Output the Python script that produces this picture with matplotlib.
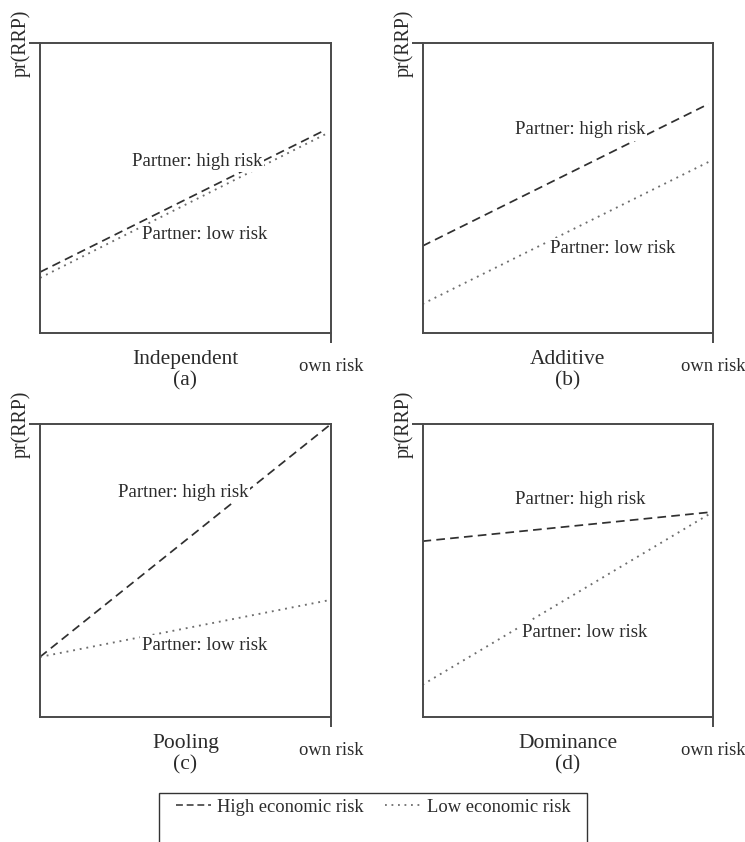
import matplotlib.pyplot as plt
from matplotlib.lines import Line2D
from matplotlib.patches import Rectangle

plt.rcParams["font.family"] = ["Liberation Serif", "DejaVu Serif"]

# four interaction models, own risk (x) vs probability of RRP (y)
panel_names = ["Independent", "Additive", "Pooling", "Dominance"]
panel_letters = ["(a)", "(b)", "(c)", "(d)"]
x_end = [0.98, 0.985, 1.0, 1.0]
high_start = [0.21, 0.30, 0.205, 0.60]
high_end = [0.70, 0.79, 1.0, 0.70]
low_start = [0.19, 0.10, 0.205, 0.11]
low_end = [0.685, 0.59, 0.40, 0.70]

# where the "Partner: ..." notes sit, in axes fractions
high_note_xy = [(0.54, 0.593), (0.542, 0.70), (0.491, 0.765), (0.542, 0.742)]
low_note_xy = [(0.567, 0.341), (0.656, 0.29), (0.567, 0.245), (0.559, 0.29)]

legend_labels = ["High economic risk", "Low economic risk"]

ink = "#2b2b2b"
spine_col = "#4a4a4a"
dash_col = "#303030"
dot_col = "#6e6e6e"
dash_style = (0, (5, 3))
dot_style = (0, (1, 2.6))

fig = plt.figure(figsize=(7.45, 8.42), dpi=100)

boxes = [
    (40 / 745, 1 - 333 / 842, 291 / 745, 290 / 842),
    (422.5 / 745, 1 - 333 / 842, 290.5 / 745, 290 / 842),
    (40 / 745, 1 - 717 / 842, 291 / 745, 293 / 842),
    (422.5 / 745, 1 - 717 / 842, 290.5 / 745, 293 / 842),
]

for i, rect in enumerate(boxes):
    ax = fig.add_axes(rect)
    ax.set_xlim(0, 1)
    ax.set_ylim(0, 1)

    ax.plot([0, x_end[i]], [high_start[i], high_end[i]], color=dash_col,
            lw=1.25, linestyle=dash_style, zorder=2)
    ax.plot([0, x_end[i]], [low_start[i], low_end[i]], color=dot_col,
            lw=1.35, linestyle=dot_style, zorder=2)

    for (tx, ty), txt in [(high_note_xy[i], "Partner: high risk"),
                          (low_note_xy[i], "Partner: low risk")]:
        ax.text(tx, ty, txt, transform=ax.transAxes, ha="center", va="center",
                fontsize=13.5, color=ink, zorder=3,
                bbox=dict(facecolor="white", edgecolor="none", pad=1.5))

    for s in ax.spines.values():
        s.set_color(spine_col)
        s.set_linewidth(1.4)

    ax.set_xticks([1])
    ax.set_xticklabels(["own risk"], fontsize=13.3, color=ink)
    ax.set_yticks([1])
    ax.set_yticklabels(["pr(RRP)"], fontsize=14.3, color=ink, rotation=90,
                       va="center")
    ax.tick_params(axis="x", direction="out", length=7, width=1.4,
                   color=spine_col, pad=11)
    ax.tick_params(axis="y", direction="out", length=8, width=1.4,
                   color=spine_col, pad=-1.5)

    ax.set_xlabel(panel_names[i] + "\n" + panel_letters[i], fontsize=15.5,
                  color=ink, linespacing=1.15)
    ax.xaxis.set_label_coords(0.5, -0.058)

# framed key along the bottom edge
fig.add_artist(Rectangle((159 / 745, -0.05), 428 / 745, 0.05 + 1 - 793 / 842,
                         transform=fig.transFigure, facecolor="none",
                         edgecolor="#333333", lw=1.0))
handles = [
    Line2D([], [], color=dash_col, lw=1.1, linestyle=(0, (4.5, 2.5))),
    Line2D([], [], color=dot_col, lw=1.3, linestyle=(0, (1, 2.6))),
]
fig.legend(handles, legend_labels, loc="center",
           bbox_to_anchor=(0.5007, 1 - 807 / 842), ncol=2, frameon=False,
           fontsize=13.3, handlelength=1.9, handletextpad=0.35,
           columnspacing=1.15, labelcolor=ink)

fig.savefig("out.png", dpi=100, facecolor="white")
